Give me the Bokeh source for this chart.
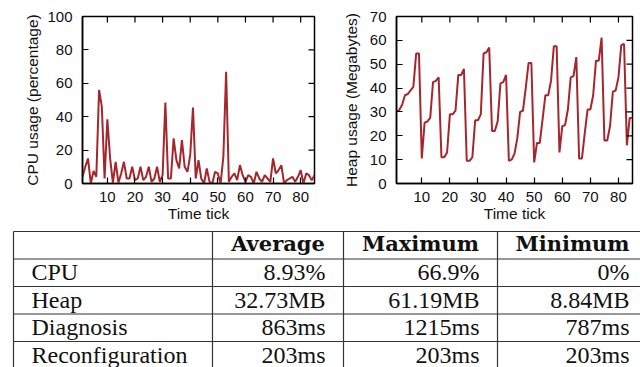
import math
from bokeh.plotting import figure
from bokeh.models import Range1d, FixedTicker
from bokeh.layouts import column, row
from bokeh.embed import file_html
from bokeh.resources import INLINE
from bokeh.core.properties import value

# ---------------- data ----------------
time_tick = list(range(1, 86))
cpu_usage = [4, 10, 15, 0, 7.5, 4, 56, 46, 3, 38.5,
             15, 0.5, 13, 0.5, 6, 13, 3, 3, 10, 2,
             3, 10, 2, 4, 10, 1, 3, 10, 1, 5,
             48.5, 3, 3, 27, 14, 9, 26, 10, 7, 17,
             45.5, 3, 14, 3, 0, 9, 1, 0, 7, 6,
             0, 16, 66.9, 1, 4, 6, 2, 11, 5, 1,
             5, 4, 0, 7, 3, 1, 5, 3, 1, 15,
             6, 8, 11, 0, 2, 3, 4, 1, 4, 8,
             0, 6, 5, 2, 5]
heap_usage = [30.2, 30.8, 33, 37, 37.5, 39, 40.5, 54.5, 54.5, 10.5,
              25.5, 26, 27.5, 42.5, 43, 44.5, 11, 11, 13, 29,
              29, 30.5, 45.5, 45.5, 48, 9.5, 9.5, 11, 26.5, 26.5,
              29, 54.5, 55, 57, 22, 22, 26, 42, 42.5, 45.5,
              9.5, 10, 12.5, 19, 30, 30.5, 40, 50.5, 50.5, 8.84,
              17, 17, 27, 37, 37, 43, 57.5, 57.5, 13, 24,
              24.5, 31, 44.5, 45, 53, 10.5, 10.5, 21, 31, 31,
              37, 51.5, 51.5, 61.19, 18, 18, 24, 38.5, 39, 44.5,
              58, 58.5, 16, 27.5, 27.5]
x_ticks = [10, 20, 30, 40, 50, 60, 70, 80]
cpu_y_ticks = [0, 20, 40, 60, 80, 100]
heap_y_ticks = [0, 10, 20, 30, 40, 50, 60, 70]

table_headers = ["Average", "Maximum", "Minimum"]
table_rows = ["CPU", "Heap", "Diagnosis", "Reconfiguration"]
avg_col = ["8.93%", "32.73MB", "863ms", "203ms"]
max_col = ["66.9%", "61.19MB", "1215ms", "203ms"]
min_col = ["0%", "8.84MB", "787ms", "203ms"]

# ---------------- styles ----------------
RED = "#a5262c"
SANS = "Liberation Sans"
TXT = "#111111"


def style_axis(ax, standoff):
    ax.axis_line_color = "black"
    ax.axis_line_width = 1.5
    ax.major_tick_in = 6
    ax.major_tick_out = 0
    ax.major_tick_line_color = "black"
    ax.major_tick_line_width = 1.2
    ax.minor_tick_line_color = None
    ax.major_label_text_font = SANS
    ax.major_label_text_font_size = "15px"
    ax.major_label_text_color = TXT
    ax.major_label_standoff = standoff
    ax.axis_label_text_font = SANS
    ax.axis_label_text_font_size = "15.5px"
    ax.axis_label_text_font_style = "normal"
    ax.axis_label_text_color = TXT


def make_plot(yvals, yticks, ylabel, mbl, mbt, mbr, ylab_standoff):
    xmin, xmax = time_tick[0], time_tick[-1]
    ymin, ymax = yticks[0], yticks[-1]
    p = figure(width=320, height=225, output_backend="svg", toolbar_location=None,
               x_range=Range1d(xmin, xmax), y_range=Range1d(ymin, ymax),
               min_border_left=mbl, min_border_right=mbr, min_border_top=mbt,
               min_border_bottom=42,
               x_axis_label="Time tick", y_axis_label=ylabel)
    p.line(time_tick, yvals, line_color=RED, line_width=2)
    p.grid.visible = False
    p.outline_line_color = "black"
    p.outline_line_width = 1.5
    p.background_fill_color = "white"
    p.border_fill_color = "white"
    p.xaxis.ticker = FixedTicker(ticks=x_ticks)
    p.yaxis.ticker = FixedTicker(ticks=yticks)
    style_axis(p.xaxis[0], 8)
    style_axis(p.yaxis[0], 10)
    p.xaxis[0].axis_label_standoff = 0
    p.yaxis[0].axis_label_standoff = ylab_standoff
    # mirrored inward ticks on top and right edges (half of each dash is clipped by the frame)
    p.scatter(x=x_ticks, y=[ymax] * len(x_ticks), marker="dash", size=12,
              angle=math.pi / 2, line_color="black", line_width=1.2)
    p.scatter(x=[xmax] * len(yticks), y=yticks, marker="dash", size=12,
              line_color="black", line_width=1.2)
    return p


p_cpu = make_plot(cpu_usage, cpu_y_ticks, "CPU usage (percentage)", 82, 13, 6, 3)
p_heap = make_plot(heap_usage, heap_y_ticks, "Heap usage (Megabytes)", 76, 16, 8, 7)

# ---------------- table ----------------
T_W, T_H = 640, 142
TOP = 6
ROW_H = 27.5
BODY_BASE = 13 / ROW_H
HEAD_BASE = 12 / ROW_H
PAD = 18
col_edges = [13, 212, 343, 497, 647]

t = figure(width=T_W, height=T_H, output_backend="svg", toolbar_location=None,
           x_range=Range1d(0, T_W),
           y_range=Range1d(start=(T_H - TOP) / ROW_H, end=-TOP / ROW_H),
           min_border=0, x_axis_location=None, y_axis_location=None)
t.grid.visible = False
t.outline_line_color = None
t.background_fill_color = "white"
t.border_fill_color = "white"

n_lines = len(table_rows) + 2
t.segment(x0=[col_edges[0]] * n_lines, x1=[col_edges[-1]] * n_lines,
          y0=list(range(n_lines)), y1=list(range(n_lines)),
          line_color="#333333", line_width=1.2)
t.segment(x0=col_edges, x1=col_edges, y0=[0] * len(col_edges),
          y1=[n_lines - 1] * len(col_edges), line_color="#333333", line_width=1.2)

# header
hx = [(col_edges[i + 1] + col_edges[i + 2]) / 2 for i in range(len(table_headers))]
t.text(x=hx, y=[HEAD_BASE] * len(hx), text=table_headers,
       text_font=value("DejaVu Serif"), text_font_style="bold",
       text_font_size="21px", text_align="center", text_baseline="alphabetic",
       text_color="#111111")

# row labels and values
ry = [i + 1 + BODY_BASE for i in range(len(table_rows))]
t.text(x=[col_edges[0] + PAD] * len(table_rows), y=ry, text=table_rows,
       text_font=value("Liberation Serif"), text_font_size="24px",
       text_align="left", text_baseline="alphabetic", text_color="#111111")

for j, col in enumerate([avg_col, max_col, min_col]):
    t.text(x=[col_edges[j + 2] - PAD] * len(col), y=ry, text=col,
           text_font=value("Liberation Serif"), text_font_size="24px",
           text_align="right", text_baseline="alphabetic", text_color="#111111")

layout = column(row(p_cpu, p_heap), t)
open("out.html", "w").write(file_html(layout, INLINE))
